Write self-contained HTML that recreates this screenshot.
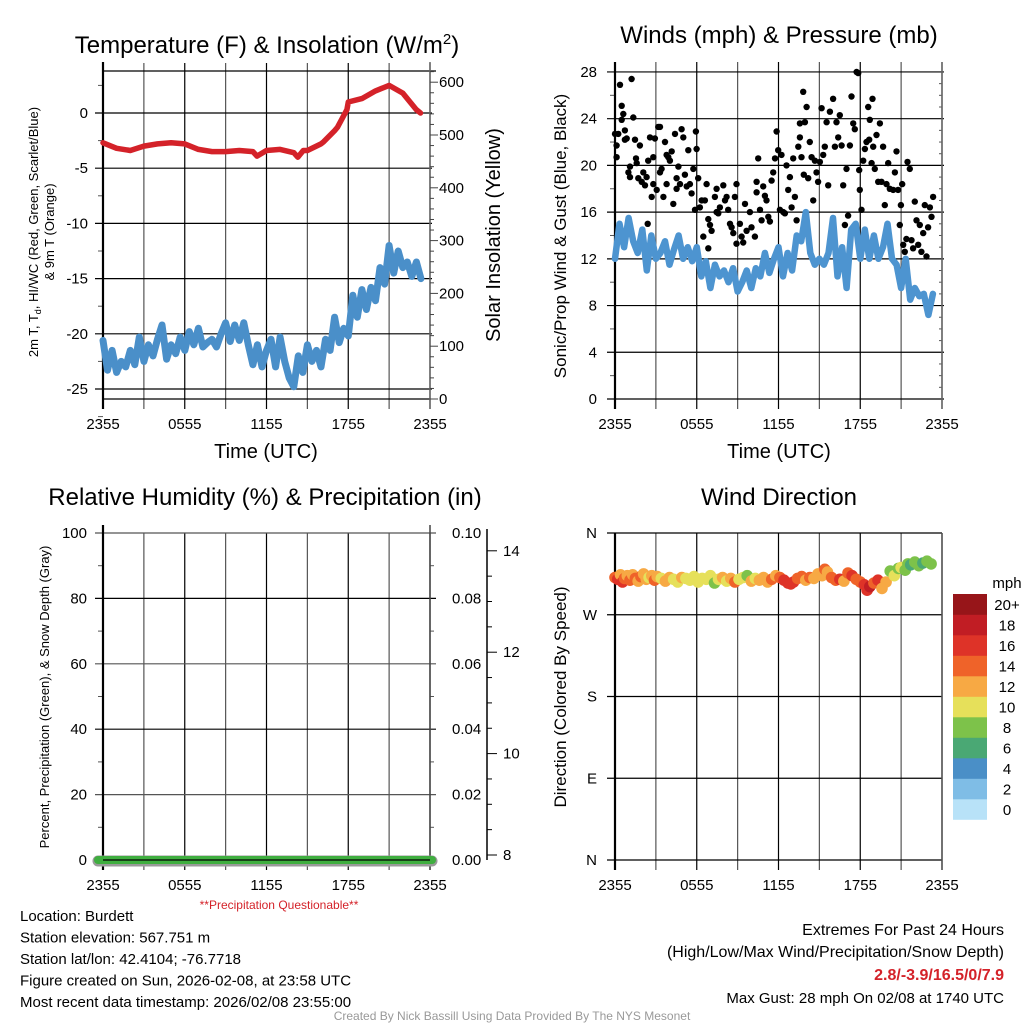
<!DOCTYPE html>
<html><head><meta charset="utf-8"><style>
html,body{margin:0;padding:0;background:#fff;}
svg{display:block;font-family:"Liberation Sans",Arial,sans-serif;}
</style></head><body>
<svg id="c" width="1024" height="1024" viewBox="0 0 1024 1024" xmlns="http://www.w3.org/2000/svg">
<g id="g"></g>
</svg>
<script>
// ---------- DATA ----------
const tempHours = [0,1,2,3,4,5,6,7,8,9,10,11,11.3,12,13,14,14.3,14.7,15,16,16.2,17,17.2,17.9,18,19,20,21,22,23,23.3];
const tempVals = [-2.7,-3.2,-3.4,-3.0,-2.8,-2.7,-2.8,-3.3,-3.5,-3.5,-3.4,-3.5,-3.9,-3.4,-3.3,-3.6,-4.0,-3.4,-3.4,-2.8,-2.6,-1.6,-1.3,0.3,1.0,1.3,2.0,2.5,1.8,0.3,0.0];
const dewVals = [-20.6,-23.3,-21.5,-23.5,-22.5,-23.0,-21.5,-22.8,-20.3,-22.5,-21.0,-22.0,-20.5,-19.2,-22.3,-21.0,-21.8,-20.3,-21.5,-19.8,-21.0,-19.5,-21.2,-20.8,-20.5,-21.2,-20.0,-19.0,-20.7,-19.2,-20.6,-19.0,-21.0,-22.8,-21.0,-23.0,-21.5,-20.5,-23.0,-20.3,-22.5,-24.0,-24.8,-22.0,-23.5,-21.0,-22.5,-21.5,-23.0,-20.5,-21.5,-18.5,-20.8,-19.5,-20.2,-16.5,-18.5,-16.0,-17.8,-15.8,-17.0,-14.0,-15.5,-12.0,-14.5,-12.5,-14.0,-13.5,-14.8,-13.5,-15.0];
const windVals = [12.0,15.0,13.0,15.5,13.5,12.5,14.5,11.0,14.0,12.0,12.5,13.5,11.5,12.8,14.0,12.0,13.0,11.8,13.0,10.5,11.8,9.5,11.5,10.5,11.0,10.0,11.2,9.2,10.0,11.0,9.5,11.2,10.5,12.5,10.8,12.0,13.0,10.5,12.5,11.0,14.0,13.5,16.0,12.5,11.5,12.0,11.5,12.5,15.5,10.5,13.0,9.5,14.5,15.0,12.0,14.5,12.0,14.0,12.0,13.0,15.0,12.0,11.5,9.5,12.0,8.5,9.5,8.8,9.0,7.2,9.0];
const gustHours = [0,0.12,0.12,0.24,0.37,0.49,0.49,0.61,0.73,0.73,0.86,0.98,1.1,1.1,1.22,1.34,1.47,1.54,1.59,1.71,1.83,1.96,2.08,2.2,2.32,2.4,2.44,2.57,2.69,2.81,2.81,2.93,3.06,3.18,3.3,3.3,3.42,3.55,3.67,3.79,3.79,3.91,4.03,4.16,4.28,4.4,4.52,4.52,4.65,4.77,4.89,5.01,5.13,5.26,5.38,5.5,5.62,5.75,5.87,5.94,5.99,6.11,6.23,6.36,6.48,6.6,6.72,6.85,6.85,6.97,7.09,7.33,7.46,7.46,7.58,7.7,7.95,8.07,8.19,8.31,8.44,8.56,8.68,8.8,8.92,8.92,9.17,9.29,9.41,9.54,9.66,9.9,10.02,10.27,10.39,10.39,10.51,10.64,10.76,10.88,11,11.12,11.25,11.37,11.49,11.61,11.74,11.86,11.98,12.1,12.22,12.35,12.47,12.59,12.71,12.84,12.96,13.08,13.2,13.33,13.45,13.57,13.57,13.69,13.81,13.86,13.94,14.06,14.18,14.3,14.43,14.55,14.67,14.79,14.91,15.04,15.16,15.28,15.4,15.53,15.65,15.77,16.01,16.14,16.26,16.38,16.5,16.63,16.75,16.87,16.99,17.11,17.24,17.36,17.48,17.6,17.73,17.85,17.92,17.97,18.09,18.22,18.34,18.46,18.58,18.66,18.7,18.83,18.9,18.95,19.07,19.19,19.32,19.44,19.56,19.68,19.8,19.93,20.05,20.17,20.42,20.54,20.66,20.78,20.9,20.98,21.08,21.15,21.27,21.39,21.47,21.64,21.76,21.88,22,22.13,22.25,22.37,22.49,22.62,22.74,22.86,22.98,23.11,23.23,23.35];
const gustVals = [22.7,21.7,20.7,22.7,26.9,23.9,25.1,24.4,23.0,22.2,22.3,19.4,19.9,19.0,27.4,24.1,22.2,20.6,20.2,18.9,21.7,18.6,19.4,18.3,19.0,15.0,20.4,22.4,17.3,20.7,18.4,22.3,17.9,23.3,23.3,19.4,19.7,17.3,22.0,20.9,18.4,20.7,20.4,21.2,16.7,22.7,18.9,18.0,19.9,18.4,23.1,22.4,19.2,18.2,21.3,18.4,17.6,19.7,16.2,22.9,21.4,18.9,16.4,17.0,13.9,17.0,18.4,12.9,15.4,14.9,14.4,17.3,18.0,16.0,15.9,16.4,18.3,17.0,17.3,16.2,15.0,14.7,14.2,17.3,13.3,18.4,15.0,13.9,13.4,16.7,14.4,16.0,14.7,13.9,18.6,17.7,20.6,16.2,15.3,18.2,17.4,17.0,15.6,15.2,18.7,19.4,20.6,22.9,21.3,16.2,20.9,16.0,15.9,20.0,17.9,19.0,16.4,20.6,17.3,15.3,21.6,23.6,22.4,20.7,26.3,19.2,23.7,25.0,18.9,22.0,20.7,17.0,20.4,19.4,18.6,20.3,24.9,20.9,21.6,23.7,18.3,24.6,25.7,21.6,23.7,22.4,24.3,21.7,18.3,14.9,19.7,15.7,21.7,25.9,23.6,23.1,28.0,27.9,19.6,17.9,16.2,20.4,21.4,22.0,25.0,22.2,23.9,20.2,25.7,21.6,19.7,22.6,18.6,23.6,18.6,21.6,16.6,18.4,20.2,18.0,17.9,19.4,21.2,17.9,14.9,16.6,18.4,13.2,12.6,13.7,20.3,19.7,13.6,12.9,16.9,15.3,13.2,14.9,12.6,14.2,16.6,12.2,14.7,16.4,15.6,17.3];
const dirHours = [0,0.2,0.4,0.55,0.7,0.9,1.1,1.3,1.5,1.7,1.9,2.1,2.3,2.5,2.7,2.9,3.1,3.4,3.7,4.0,4.3,4.6,4.9,5.2,5.5,5.8,6.1,6.4,6.7,7.0,7.3,7.6,7.9,8.2,8.5,8.8,9.1,9.4,9.7,10.0,10.3,10.6,10.9,11.2,11.5,11.8,12.1,12.4,12.7,12.9,13.1,13.4,13.7,14.0,14.3,14.6,14.9,15.2,15.4,15.6,15.9,16.2,16.5,16.8,17.1,17.4,17.7,18.0,18.3,18.5,18.7,19.0,19.3,19.6,19.9,20.2,20.5,20.8,21.0,21.3,21.5,21.7,22.0,22.3,22.6,22.9,23.2];
const dirVals = [311,309,314,306,310,313,308,314,310,307,312,315,309,311,313,308,312,310,307,311,309,306,311,310,308,312,306,310,309,313,305,309,311,307,310,306,309,311,313,307,310,308,311,306,309,313,311,308,305,304,306,310,312,308,311,310,315,313,320,317,311,308,309,307,316,313,309,306,303,297,301,305,308,299,306,318,313,321,322,319,326,325,328,324,327,329,326];
const dirSpeeds = [14,16,13,17,14,12,15,13,14,12,14,12,13,10,12,14,13,11,13,12,11,10,12,10,11,10,10,11,10,10,9,10,12,10,12,14,10,11,9,12,11,12,13,12,14,13,15,16,16,17,16,14,15,13,14,12,13,12,14,12,15,14,16,13,15,16,15,14,16,17,18,15,17,13,12,9,10,8,11,8,8,7,8,8,7,8,8];
const cbLabels = ["0","2","4","6","8","10","12","14","16","18","20+"];
const cbColors = ["#b8e2f8","#7fbde6","#4a8fc7","#4aa874","#7dc24a","#e6e05a","#f7a944","#ef6329","#de3328","#c11d24","#971519"];
const xTickLabels = ["2355","0555","1155","1755","2355"];
const tTicks = [0,-5,-10,-15,-20,-25];
const solTicks = [0,100,200,300,400,500,600];
const windTicks = [0,4,8,12,16,20,24,28];
const rhTicks = [0,20,40,60,80,100];
const precipTicks = ["0.00","0.02","0.04","0.06","0.08","0.10"];
const snowTicks = [8,10,12,14];
const dirTicks = ["N","E","S","W","N"];

// ---------- HELPERS ----------
const NS="http://www.w3.org/2000/svg";
const root=document.getElementById('g');
function mk(tag,attrs,parent){const e=document.createElementNS(NS,tag);for(const k in attrs)e.setAttribute(k,attrs[k]);(parent||root).appendChild(e);return e;}
function txt(s,x,y,size,anchor,parent,extra){const e=mk('text',Object.assign({x:x,y:y,'font-size':size,'text-anchor':anchor||'start',fill:'#000'},extra||{}),parent);e.textContent=s;return e;}
function line(x1,y1,x2,y2,w,col,parent){return mk('line',{x1:x1,y1:y1,x2:x2,y2:y2,stroke:col||'#000','stroke-width':w||1},parent);}
function xs(x0,h){return x0+h*(327/24);}
const TF=15;

// ---------- PANEL 1: temperature ----------
const p1=mk('g',{});


const L1=103,R1=430;
const yT=v=>113-v*11.04;
const yS=v=>399-v*0.528;
for(let i=0;i<=8;i++){const x=xs(L1,i*3);const l=line(x,63,x,409,1.2,i%2?'#555':'#000',p1);}
line(L1,71,R1+6,71,1.2,'#000',p1);
line(L1,399,R1,399,1.2,'#000',p1);
tTicks.forEach(v=>{const l=line(95,yT(v),R1+2,yT(v),1.2,'#000',p1);
 const t=txt(String(v),88,yT(v)+5,TF,'end',p1);
 line(98,yT(v-2.5),L1,yT(v-2.5),1,'#555',p1);});
line(98,yT(2.5),L1,yT(2.5),1,'#555',p1);
line(L1,62,L1,409,2.2,'#000',p1);
line(R1,62,R1,409,1.5,'#666',p1);
for(let v=0;v<=620;v+=20){line(R1,yS(v),R1+(v%100===0?8:4),yS(v),1,'#444',p1);}
solTicks.forEach(v=>{const t=txt(String(v),439,yS(v)+5,TF,'start',p1);});
xTickLabels.forEach((s,i)=>{const t=txt(s,xs(L1,i*6),429,TF,'middle',p1);});
const dewPath=dewVals.map((v,i)=>(i?'L':'M')+xs(L1,i/3).toFixed(1)+','+yT(v).toFixed(1)).join('');
const dp=mk('path',{d:dewPath,fill:'none',stroke:'#4a8fc9','stroke-width':7,'stroke-linejoin':'round','stroke-linecap':'round'},p1);


const tp=mk('path',{d:tempHours.map((h,i)=>(i?'L':'M')+xs(L1,h).toFixed(1)+','+yT(tempVals[i]).toFixed(1)).join(''),fill:'none',stroke:'#d42229','stroke-width':5.5,'stroke-linejoin':'round','stroke-linecap':'round'},p1);


const t1=txt('Temperature (F) & Insolation (W/m',267,53,24,'middle',p1);


const sup=mk('tspan',{dy:-9,'font-size':15},t1);sup.textContent='2';
const sup2=mk('tspan',{dy:9},t1);sup2.textContent=')';
const xl1=txt('Time (UTC)',266,458,20,'middle',p1);


const yl1=txt('',0,0,13,'middle',p1,{transform:'translate(38,232) rotate(-90)'});


yl1.innerHTML='2m T, T<tspan font-size="9" dy="3">d</tspan><tspan dy="-3">, HI/WC (Red, Green, Scarlet/Blue)</tspan>';
const yl1b=txt('& 9m T (Orange)',0,0,13,'middle',p1,{transform:'translate(54,232) rotate(-90)'});


const yr1=txt('Solar Insolation (Yellow)',0,0,20,'middle',p1,{transform:'translate(500,235) rotate(-90)'});



// ---------- PANEL 2: winds ----------
const p2=mk('g',{});


const L2=615,R2=942;
const yW=v=>399-v*11.68;
for(let i=0;i<=8;i++){const x=xs(L2,i*3);const l=line(x,62,x,409,1.2,i%2?'#555':'#000',p2);}
windTicks.forEach(v=>{const l=line(607,yW(v),R2+2,yW(v),1.2,'#000',p2);
 const t=txt(String(v),597,yW(v)+5,TF,'end',p2);
 if(v<28){line(610,yW(v+2),L2,yW(v+2),1,'#555',p2);}});
for(let v=1;v<28;v++){if(v%4)line(R2-3,yW(v),R2,yW(v),1,'#555',p2);}
line(L2,62,L2,409,2.2,'#000',p2);
line(R2,62,R2,409,1.5,'#666',p2);
xTickLabels.forEach((s,i)=>{const t=txt(s,xs(L2,i*6),429,TF,'middle',p2);});
const wp=mk('path',{d:windVals.map((v,i)=>(i?'L':'M')+xs(L2,i/3).toFixed(1)+','+yW(v).toFixed(1)).join(''),fill:'none',stroke:'#4d94d0','stroke-width':6.5,'stroke-linejoin':'round','stroke-linecap':'round'},p2);


gustHours.forEach((h,i)=>{const c=mk('circle',{cx:xs(L2,h).toFixed(1),cy:yW(gustVals[i]).toFixed(1),r:3.2,fill:'#000'},p2);
 
 });
const t2=txt('Winds (mph) & Pressure (mb)',779,43,24,'middle',p2);


const xl2=txt('Time (UTC)',779,458,20,'middle',p2);


const yl2=txt('Sonic/Prop Wind & Gust (Blue, Black)',0,0,17,'middle',p2,{transform:'translate(566,236) rotate(-90)'});



// ---------- PANEL 3: RH & precip ----------
const p3=mk('g',{});


const yR=v=>860-v*3.27;
for(let i=0;i<=8;i++){const x=xs(L1,i*3);const l=line(x,533,x,870,1.2,i%2?'#555':'#000',p3);}
rhTicks.forEach((v,i)=>{const l=line(95,yR(v),R1+6,yR(v),1.2,i%2?'#555':'#000',p3);
 const t=txt(String(v),87,yR(v)+5,TF,'end',p3);
 const t2=txt(precipTicks[i],452,yR(v)+5,TF,'start',p3);
 if(v<100){line(98,yR(v+10),L1,yR(v+10),1,'#555',p3);line(R1,yR(v+10),R1+4,yR(v+10),1,'#555',p3);}});
line(L1,525,L1,870,2.2,'#000',p3);
line(R1,525,R1,870,1.5,'#444',p3);
const yN=v=>855-(v-8)*50.7;
line(487,529,487,860,1.5,'#000',p3);
for(let v=8;v<=14.4;v+=0.5){line(487,yN(v),v%2===0?497:492,yN(v),1,'#000',p3);}
snowTicks.forEach(v=>{const t=txt(String(v),503,yN(v)+5,TF,'start',p3);});
const sd=line(98,861,432,861,11,'#999',p3);sd.setAttribute('stroke-linecap','round');


const pr=line(98,860,432,860,8,'#3fae3f',p3);pr.setAttribute('stroke-linecap','round');


line(L1,860,R1,860,1.2,'#000',p3);
xTickLabels.forEach((s,i)=>{const t=txt(s,xs(L1,i*6),890,TF,'middle',p3);});
const t3=txt('Relative Humidity (%) & Precipitation (in)',265,505,24,'middle',p3);


const pq=txt('**Precipitation Questionable**',279,909,12,'middle',p3,{fill:'#d42229'});


const yl3=txt('Percent, Precipitation (Green), & Snow Depth (Gray)',0,0,13,'middle',p3,{transform:'translate(49,697) rotate(-90)'});



// ---------- PANEL 4: wind direction ----------
const p4=mk('g',{});


const yD=d=>860-d*(327/360);
for(let i=0;i<=8;i++){const x=xs(L2,i*3);const l=line(x,533,x,870,1.2,i%2?'#555':'#000',p4);}
dirTicks.forEach((s,i)=>{const y=yD(i*90);const l=line(607,y,R2,y,1.2,'#000',p4);
 const t=txt(s,597,y+5,TF,'end',p4);});
line(L2,533,L2,870,2.2,'#000',p4);
line(R2,533,R2,870,1.5,'#555',p4);
xTickLabels.forEach((s,i)=>{const t=txt(s,xs(L2,i*6),890,TF,'middle',p4);});
dirHours.forEach((h,i)=>{const ci=Math.min(10,Math.floor(dirSpeeds[i]/2));
 const c=mk('circle',{cx:xs(L2,h).toFixed(1),cy:yD(dirVals[i]).toFixed(1),r:5.8,fill:cbColors[ci]},p4);
 
 });
const t4=txt('Wind Direction',779,505,24,'middle',p4);


const yl4=txt('Direction (Colored By Speed)',0,0,17,'middle',p4,{transform:'translate(566,697) rotate(-90)'});


const cb=mk('g',{},p4);


cbColors.forEach((col,i)=>{const top=594+(10-i)*20.5;
 const r=mk('rect',{x:953,y:top,width:34,height:20.8,fill:col},cb);
 
 
 const t=txt(cbLabels[i],1007,top+16,TF,'middle',cb);
 
 });
const mph=txt('mph',1007,588,TF,'middle',cb);



// ---------- FOOTER ----------
const foot=["Location: Burdett","Station elevation: 567.751 m","Station lat/lon: 42.4104; -76.7718","Figure created on Sun, 2026-02-08, at 23:58 UTC","Most recent data timestamp: 2026/02/08 23:55:00"];
foot.forEach((s,i)=>{const t=txt(s,20,921+i*21.5,15,'start');});
const e1=txt('Extremes For Past 24 Hours',1004,935,16,'end');


const e2=txt('(High/Low/Max Wind/Precipitation/Snow Depth)',1004,957,16,'end');


const e3=txt('2.8/-3.9/16.5/0/7.9',1004,980,16,'end',null,{fill:'#d42229','font-weight':'bold'});


const e4=txt('Max Gust: 28 mph On 02/08 at 1740 UTC',1004,1003,15,'end');


const cr=txt('Created By Nick Bassill Using Data Provided By The NYS Mesonet',512,1020,12,'middle',null,{fill:'#999'});


</script>
</body></html>
